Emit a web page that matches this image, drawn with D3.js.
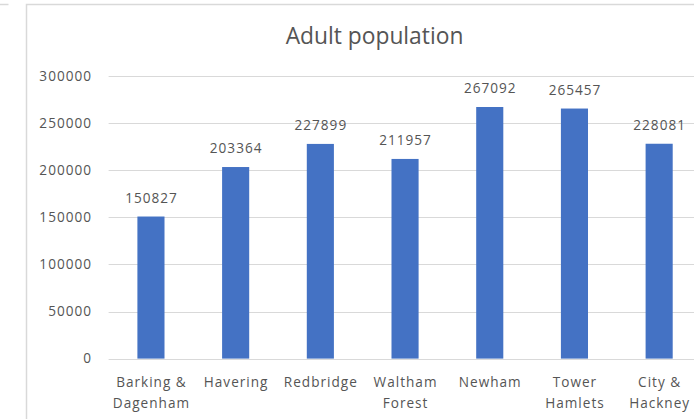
<!DOCTYPE html>
<html>
<head>
<meta charset="utf-8">
<script src="https://cdn.jsdelivr.net/npm/d3@7"></script>
<style>
  html, body { margin: 0; padding: 0; background: #fff; }
  svg { display: block; }
  text { font-family: "Open Sans", "Liberation Sans", sans-serif; fill: #555555; }
</style>
</head>
<body>
<svg id="chart" width="694" height="419"></svg>
<script>
// Adult population by borough
const categories = ["Barking &\nDagenham", "Havering", "Redbridge", "Waltham\nForest", "Newham", "Tower\nHamlets", "City &\nHackney"];
const population = [150827, 203364, 227899, 211957, 267092, 265457, 228081];
const yTicks = [0, 50000, 100000, 150000, 200000, 250000, 300000];
const chartTitle = "Adult population";

const svg = d3.select("#chart");

const plot = { left: 108.6, right: 701.5, top: 76, bottom: 358.6 };
const labelSize = "13.6px";
const labelSpacing = "1.0px";

// Chart frame
svg.append("line")
  .attr("x1", 0).attr("x2", 8.5).attr("y1", 4.5).attr("y2", 4.5)
  .attr("stroke", "#d9d9d9").attr("stroke-width", 1.5);
svg.append("rect")
  .attr("x", 26.5).attr("y", 4.5)
  .attr("width", 720).attr("height", 440)
  .attr("fill", "none").attr("stroke", "#d9d9d9").attr("stroke-width", 1.5);

const x = d3.scaleBand()
  .domain(categories)
  .range([plot.left, plot.right])
  .paddingInner(0.68)
  .paddingOuter(0.34);

const y = d3.scaleLinear()
  .domain([0, 300000])
  .range([plot.bottom, plot.top]);

// Title
svg.append("text")
  .attr("x", 374.5).attr("y", 43.5)
  .attr("text-anchor", "middle")
  .style("font-size", "22.8px")
  .text(chartTitle);

// Gridlines
svg.append("g")
  .selectAll("line")
  .data(yTicks)
  .join("line")
  .attr("x1", plot.left).attr("x2", plot.right + 30)
  .attr("y1", d => Math.round(y(d)) + 0.5)
  .attr("y2", d => Math.round(y(d)) + 0.5)
  .attr("stroke", "#d9d9d9").attr("stroke-width", 1);

// Y axis labels
const yAxis = svg.append("g")
  .attr("transform", `translate(${plot.left},0)`)
  .call(d3.axisLeft(y).tickValues(yTicks).tickFormat(d3.format("d")).tickSize(0).tickPadding(16.6));
yAxis.select(".domain").remove();
yAxis.selectAll("text")
  .style("font-size", labelSize)
  .style("letter-spacing", labelSpacing)
  .style("font-family", "\"Open Sans\", sans-serif")
  .attr("fill", "#555555");

// Bars
svg.append("g")
  .selectAll("rect")
  .data(population)
  .join("rect")
  .attr("x", (d, i) => x(categories[i]))
  .attr("y", d => y(d))
  .attr("width", x.bandwidth())
  .attr("height", d => y(0) - y(d))
  .attr("fill", "#4472c4");

// Value labels
svg.append("g")
  .selectAll("text")
  .data(population)
  .join("text")
  .attr("x", (d, i) => x(categories[i]) + x.bandwidth() / 2 + 0.5)
  .attr("y", d => y(d) - 14)
  .attr("text-anchor", "middle")
  .style("font-size", labelSize)
  .style("letter-spacing", labelSpacing)
  .text(d => d);

// Category labels
const cat = svg.append("g")
  .selectAll("text")
  .data(categories)
  .join("text")
  .attr("x", d => x(d) + x.bandwidth() / 2 + 0.5)
  .attr("y", 386.8)
  .attr("text-anchor", "middle")
  .style("font-size", labelSize)
  .style("letter-spacing", labelSpacing);
cat.selectAll("tspan")
  .data(d => d.split("\n"))
  .join("tspan")
  .attr("x", function () { return d3.select(this.parentNode).attr("x"); })
  .attr("dy", (d, i) => i === 0 ? 0 : 20.8)
  .text(d => d);
</script>
</body>
</html>
